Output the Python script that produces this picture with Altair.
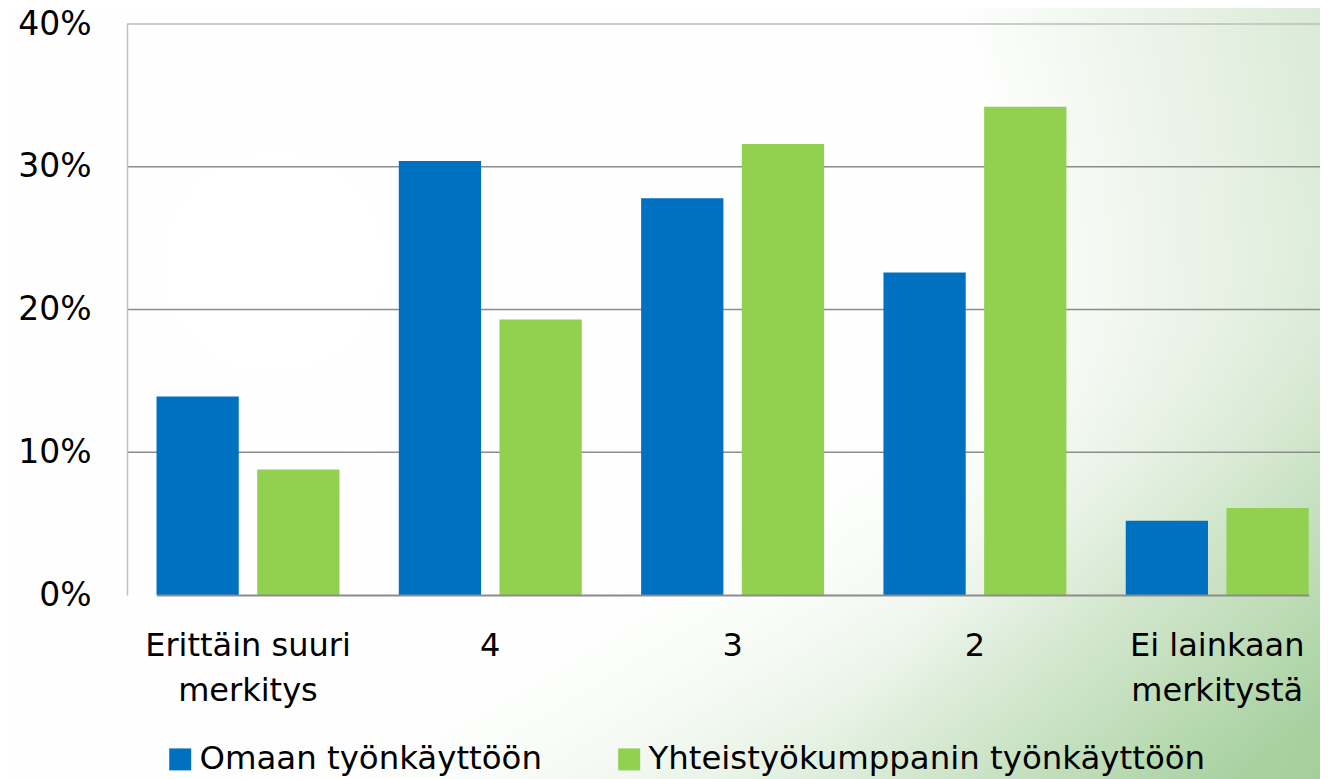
import altair as alt
import pandas as pd

categories = ["Erittäin suuri merkitys", "4", "3", "2", "Ei lainkaan merkitystä"]
series = ["Omaan työnkäyttöön", "Yhteistyökumppanin työnkäyttöön"]
omaan = [13.9, 30.4, 27.8, 22.6, 5.2]
yhteis = [8.8, 19.3, 31.6, 34.2, 6.1]
y_ticks = [0, 10, 20, 30, 40]
colors = ["#0070C0", "#92D050"]

rows = []
for c, a, b in zip(categories, omaan, yhteis):
    rows.append({"cat": c, "series": series[0], "value": a})
    rows.append({"cat": c, "series": series[1], "value": b})
df = pd.DataFrame(rows)
grid_df = pd.DataFrame({"value": y_ticks[1:]})
bg_df = pd.DataFrame({"a": [0]})

W, H = 1193, 571
PAD = {"left": 119, "top": 16, "right": 0, "bottom": 184}
FONT = "DejaVu Sans"

yscale = alt.Scale(domain=[0, 40], nice=False, zero=True)
yaxis = alt.Axis(
    values=y_ticks, labelExpr="datum.value + '%'", grid=False, ticks=False,
    labelFontSize=33, labelColor="#000000", labelPadding=36, labelFont=FONT,
    domainColor="#bfbfbf", domainWidth=1.5, zindex=1,
)

bg_pos = dict(
    x=alt.value(-PAD["left"]), x2=alt.value(W + 20),
    y=alt.value(-PAD["top"]), y2=alt.value(H + PAD["bottom"] + 10),
)

bg = alt.Chart(bg_df).mark_rect(
    fill={
        "gradient": "radial",
        "x1": 0.2, "y1": 0.4, "r1": 0,
        "x2": 0.2, "y2": 0.4, "r2": 1.0,
        "stops": [
            {"offset": 0, "color": "#ffffff"},
            {"offset": 0.55, "color": "#fdfefd"},
            {"offset": 0.65, "color": "#f0f6ee"},
            {"offset": 0.8, "color": "#dbebd7"},
            {"offset": 0.92, "color": "#c6dfc0"},
            {"offset": 1.0, "color": "#aed2a6"},
        ],
    },
    strokeWidth=0,
).encode(**bg_pos)

bg2 = alt.Chart(bg_df).mark_rect(
    fill={
        "gradient": "linear",
        "x1": 0.1, "y1": 0.2, "x2": 0.9, "y2": 1.0,
        "stops": [
            {"offset": 0, "color": "rgba(255,255,255,0)"},
            {"offset": 0.55, "color": "rgba(255,255,255,0)"},
            {"offset": 0.8, "color": "rgba(160,205,150,0.3)"},
            {"offset": 1.0, "color": "rgba(130,190,120,0.55)"},
        ],
    },
    strokeWidth=0,
).encode(**bg_pos)

grid = alt.Chart(grid_df).mark_rule(strokeWidth=1.5).encode(
    y=alt.Y("value:Q", scale=yscale, axis=yaxis, title=None),
    x=alt.value(0), x2=alt.value(W),
    color=alt.condition("datum.value == 40", alt.value("#bdbdbd"), alt.value("#8c8c8c")),
)

bars = alt.Chart(df).mark_bar().encode(
    x=alt.X(
        "cat:N", sort=categories, title=None,
        scale=alt.Scale(range=[29.5, 1181.7], paddingInner=0.245, paddingOuter=0),
        axis=alt.Axis(
            labelAngle=0, ticks=False, labelFontSize=32, labelColor="#000000",
            labelFont=FONT, labelPadding=35, labelLineHeight=45, labelBaseline="top",
            domainColor="#8c8c8c", domainWidth=2, zindex=1, labelLimit=400,
            labelExpr="datum.value == 'Erittäin suuri merkitys' ? ['Erittäin suuri', 'merkitys'] : datum.value == 'Ei lainkaan merkitystä' ? ['Ei lainkaan', 'merkitystä'] : datum.label",
        ),
    ),
    xOffset=alt.XOffset("series:N", sort=series,
                        scale=alt.Scale(domain=series, paddingInner=0.183, paddingOuter=0)),
    y=alt.Y("value:Q", scale=yscale, axis=yaxis, title=None),
    color=alt.Color(
        "series:N", sort=series,
        scale=alt.Scale(domain=series, range=colors),
        legend=alt.Legend(
            title=None, orient="none", legendX=37, legendY=719, direction="horizontal",
            symbolType="square", symbolSize=484, symbolStrokeWidth=0, symbolOpacity=1,
            labelFontSize=32.4, labelFont=FONT, labelColor="#000000", labelOffset=3,
            columnPadding=71, padding=0, labelLimit=800,
        ),
    ),
)

chart = alt.layer(bg, bg2, grid, bars).properties(
    width=W, height=H,
    autosize=alt.AutoSizeParams(type="none"),
    padding=PAD,
).configure_view(strokeWidth=0).configure(font=FONT)

chart.save("out.html", embed_options={"renderer": "svg", "actions": False})
